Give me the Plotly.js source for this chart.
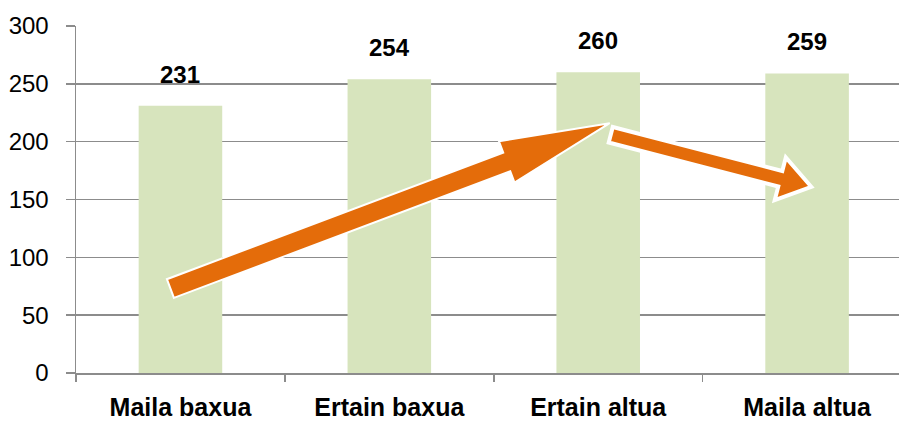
<!DOCTYPE html>
<html><head><meta charset="utf-8">
<script src="https://cdn.plot.ly/plotly-3.0.1.min.js"></script>
<style>html,body{margin:0;padding:0;background:#fff}#chart{width:899px;height:423px}</style>
</head><body><div id="chart"></div>
<script>
const categories = ["Maila baxua", "Ertain baxua", "Ertain altua", "Maila altua"];
const values = [231, 254, 260, 259];
const yTicks = [0, 50, 100, 150, 200, 250, 300];

// decorative trend arrows: [tailX(cat index), tailY, tipX, tipY]
const arrowUp = [-0.048, 73, 2.055, 216];
const arrowDown = [2.06, 206, 3.02, 161];

const W = 899, H = 423;
const M = {l: 76, r: 0, t: 26, b: 50};
const xRange = [-0.5, 3.44], yRange = [0, 300];
const PW = W - M.l - M.r, PH = H - M.t - M.b;

function toPx(x, y) {
  return [(x - xRange[0]) / (xRange[1] - xRange[0]) * PW, (yRange[1] - y) / (yRange[1] - yRange[0]) * PH];
}
function toPaper(px, py) { return [px / PW, 1 - py / PH]; }

function arrowPath(a, w, hl, hw) {
  const [tx, ty] = toPx(a[0], a[1]);
  const [hx, hy] = toPx(a[2], a[3]);
  const dx = hx - tx, dy = hy - ty, L = Math.hypot(dx, dy);
  const ux = dx / L, uy = dy / L, nx = -uy, ny = ux;
  const bx = hx - ux * hl, by = hy - uy * hl;
  const pts = [
    [tx + nx * w / 2, ty + ny * w / 2],
    [bx + nx * w / 2, by + ny * w / 2],
    [bx + nx * hw / 2, by + ny * hw / 2],
    [hx, hy],
    [bx - nx * hw / 2, by - ny * hw / 2],
    [bx - nx * w / 2, by - ny * w / 2],
    [tx - nx * w / 2, ty - ny * w / 2]
  ].map(p => toPaper(p[0], p[1]));
  return 'M' + pts.map(p => p[0].toFixed(5) + ',' + p[1].toFixed(5)).join(' L') + ' Z';
}

const trace = {
  type: 'bar', x: categories, y: values,
  marker: {color: '#d7e4bd'}, hoverinfo: 'none'
};

const annotations = categories.map((c, i) => ({
  x: c, y: values[i], xref: 'x', yref: 'y', text: String(values[i]),
  showarrow: false, yanchor: 'bottom', yshift: 16,
  font: {family: 'Liberation Sans, Arial, sans-serif', size: 24, color: '#000', weight: 'bold'}
}));

const shapes = [
  {type: 'path', xref: 'paper', yref: 'paper', path: arrowPath(arrowUp, 20, 110, 44),
   fillcolor: '#e46c0a', line: {color: '#ffffff', width: 2}, layer: 'above'},
  {type: 'path', xref: 'paper', yref: 'paper', path: arrowPath(arrowDown, 16, 32, 44),
   fillcolor: '#e46c0a', line: {color: '#ffffff', width: 4}, layer: 'above'}
];

const layout = {
  width: W, height: H, margin: M,
  paper_bgcolor: '#fff', plot_bgcolor: '#fff',
  bargap: 0.6, showlegend: false,
  xaxis: {
    type: 'category', range: xRange, tickson: 'boundaries',
    ticks: 'outside', ticklen: 7, tickcolor: '#8c8c8c', tickwidth: 1.5,
    showline: true, linecolor: '#8c8c8c', linewidth: 1.5, showgrid: false,
    ticklabelstandoff: 11,
    tickfont: {family: 'Liberation Sans, Arial, sans-serif', size: 25, color: '#000', weight: 'bold'}
  },
  yaxis: {
    range: yRange, tickvals: yTicks, ticks: 'outside', ticklen: 9,
    tickcolor: '#8c8c8c', tickwidth: 1.5,
    showline: true, linecolor: '#8c8c8c', linewidth: 1.5,
    showgrid: true, gridcolor: '#8c8c8c', gridwidth: 1.5, zeroline: false,
    ticklabelstandoff: 12,
    tickfont: {family: 'Liberation Sans, Arial, sans-serif', size: 24, color: '#000'}
  },
  annotations: annotations, shapes: shapes
};

Plotly.newPlot('chart', [trace], layout, {staticPlot: true, displayModeBar: false});
</script></body></html>
